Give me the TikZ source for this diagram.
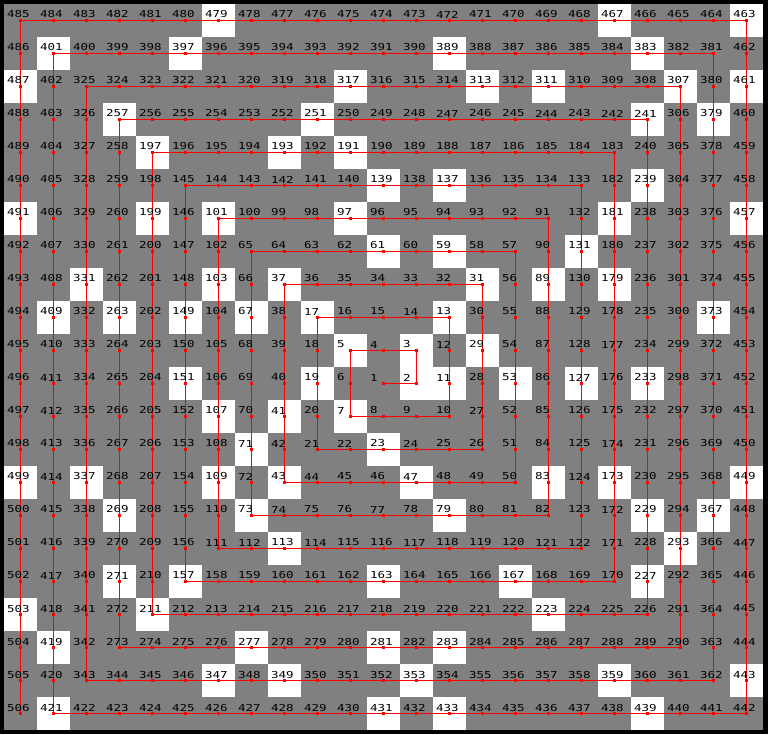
\documentclass[tikz,border=0pt]{standalone}
\usepackage{fontspec}
\usepackage{tikz}
\usetikzlibrary{calc}
\newfontfamily\cellfont[FakeStretch=1.3]{DejaVu Sans Mono}
\definecolor{cellgrey}{HTML}{808080}
\definecolor{spiralred}{HTML}{FF0000}
\newif\ifprimecell
\newcommand{\testprime}[1]{%
  \global\primecelltrue
  \ifnum#1<2 \global\primecellfalse\fi
  \foreach \dv in {2,...,22}{%
    \ifnum\numexpr\dv*\dv\relax>#1 \else
      \ifnum\numexpr(#1/\dv)*\dv\relax=#1 \global\primecellfalse\fi
    \fi}}
\newcommand{\placecell}[3]{%
  \testprime{#1}%
  \ifprimecell\def\cellcol{white}\else\def\cellcol{cellgrey}\fi
  \node[cell,fill=\cellcol] (c#1) at (#2*33,#3*33) {};}

\begin{document}
\begin{tikzpicture}[x=1pt,y=1pt,
  cell/.style={rectangle,minimum size=33.4,inner sep=0,outer sep=0},
  num/.style={font=\cellfont\fontsize{9.6}{10}\selectfont,anchor=west,inner sep=0},
  dot/.style={rectangle,fill=spiralred,inner sep=0,minimum size=3},
  spiral/.style={draw=spiralred,line width=1}]
  \fill[black] (-383.5,-350.5) rectangle (384.5,383.5);
  \fill[cellgrey] (-379.5,-346.5) rectangle (379.5,379.5);
  \gdef\cn{1}\gdef\cx{0}\gdef\cy{0}
  \placecell{1}{0}{0}
  \foreach \leg in {1,...,44}{
    \pgfmathtruncatemacro{\len}{(\leg+1)/2}
    \pgfmathtruncatemacro{\dir}{mod(\leg-1,4)}
    \foreach \s in {1,...,\len}{
      \pgfmathtruncatemacro{\nn}{\cn+1}
      \ifcase\dir
        \pgfmathtruncatemacro{\nx}{\cx+1}\let\ny\cy
      \or \let\nx\cx \pgfmathtruncatemacro{\ny}{\cy+1}
      \or \pgfmathtruncatemacro{\nx}{\cx-1}\let\ny\cy
      \or \let\nx\cx \pgfmathtruncatemacro{\ny}{\cy-1}
      \fi
      \global\let\cn\nn \global\let\cx\nx \global\let\cy\ny
      \ifnum\cn<507 \placecell{\cn}{\cx}{\cy}\fi
    }
  }
  \draw[spiral] (c1.center) \foreach \n in {2,...,506}{ -- (c\n.center)};
  \foreach \n in {1,...,506}{
    \node[dot] (d\n) at (c\n.center) {};
    \node[num] (t\n) at ([shift={(-13.5,6)}]c\n.center) {\n};
  }
\end{tikzpicture}
\end{document}
